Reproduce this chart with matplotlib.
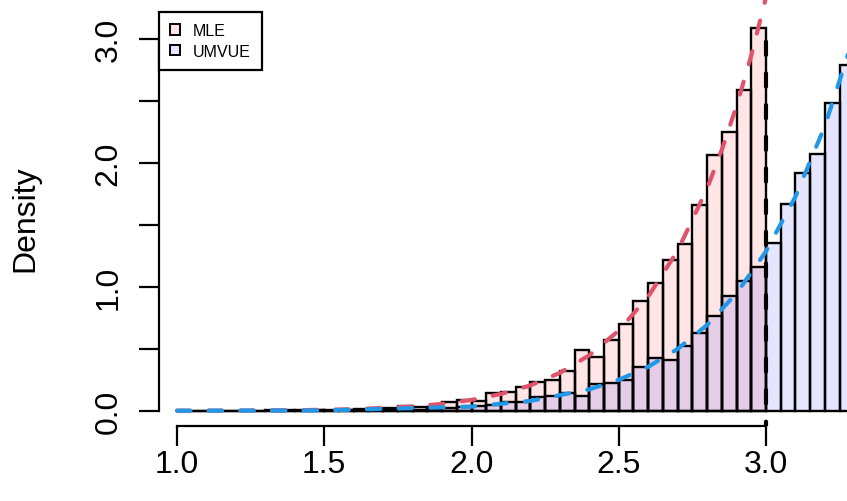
import numpy as np
import matplotlib
matplotlib.use("Agg")
import matplotlib.pyplot as plt
from matplotlib.patches import Patch

plt.rcParams['font.family'] = ['Liberation Sans', 'DejaVu Sans']

# histogram breaks (width 0.05)
bin_width = 0.05
mle_start = 1.0
umvue_start = 1.0

# MLE density per bin, 1.00 .. 3.00
mle_density = [0.0, 0.0, 0.0, 0.0, 0.0, 0.0, 0.002, 0.002, 0.004, 0.002,
               0.008, 0.006, 0.012, 0.016, 0.020, 0.038, 0.028, 0.032, 0.070, 0.088,
               0.076, 0.141, 0.154, 0.189, 0.229, 0.248, 0.324, 0.486, 0.434, 0.567,
               0.700, 0.886, 1.033, 1.213, 1.348, 1.657, 2.065, 2.246, 2.584, 3.088]

# UMVUE density per bin, 1.00 .. 3.30
umvue_density = [0.0, 0.0, 0.0, 0.0, 0.0, 0.0, 0.0, 0.0, 0.0, 0.002,
                 0.0, 0.002, 0.002, 0.004, 0.004, 0.006, 0.008, 0.010, 0.020, 0.030,
                 0.040, 0.046, 0.067, 0.073, 0.107, 0.121, 0.142, 0.121, 0.215, 0.220,
                 0.250, 0.349, 0.425, 0.412, 0.519, 0.627, 0.766, 0.921, 1.047, 1.162,
                 1.350, 1.667, 1.920, 2.070, 2.480, 2.790]

# density curves
mle_curve_x = [1.0, 1.2, 1.4, 1.6, 1.8, 1.9, 2.0, 2.1, 2.2, 2.3, 2.4, 2.5,
               2.6, 2.7, 2.8, 2.85, 2.9, 2.95, 3.0]
mle_curve_y = [0.0002, 0.0009, 0.0035, 0.012, 0.034, 0.055, 0.087, 0.135, 0.204,
               0.305, 0.447, 0.646, 0.920, 1.291, 1.791, 2.105, 2.457, 2.865, 3.333]
umvue_curve_x = [1.0, 1.5, 2.0, 2.2, 2.4, 2.5, 2.6, 2.7, 2.8, 2.9, 3.0, 3.1,
                 3.2, 3.3]
umvue_curve_y = [0.0001, 0.0025, 0.033, 0.079, 0.172, 0.249, 0.354, 0.498, 0.691,
                 0.947, 1.285, 1.726, 2.297, 3.030]

true_theta = 3.0
vline_top = 3.09

labels = ['MLE', 'UMVUE']
fill_mle = (1.0, 0.0, 0.0, 0.1)
fill_umvue = (0.0, 0.0, 1.0, 0.1)
red = '#DF536B'
blue = '#2297E6'
dash = [3.2, 4.4]

fig = plt.figure(figsize=(8.47, 5.02), dpi=100)
ax = fig.add_axes([159 / 847, 75 / 502, 688 / 847, 427 / 502])

mle_left = mle_start + bin_width * np.arange(len(mle_density))
umvue_left = umvue_start + bin_width * np.arange(len(umvue_density))

ax.bar(mle_left, mle_density, width=bin_width, align='edge',
       facecolor=fill_mle, edgecolor='black', linewidth=1.7, zorder=2)
ax.bar(umvue_left, umvue_density, width=bin_width, align='edge',
       facecolor=fill_umvue, edgecolor='black', linewidth=1.7, zorder=3)

l1, = ax.plot(mle_curve_x, mle_curve_y, color=red, lw=3, zorder=4,
              dash_capstyle='round')
l1.set_dashes(dash)
l2, = ax.plot(umvue_curve_x, umvue_curve_y, color=blue, lw=3, zorder=5,
              dash_capstyle='round')
l2.set_dashes(dash)
l3, = ax.plot([true_theta, true_theta], [-0.2, vline_top], color='black', lw=3,
              zorder=6, dash_capstyle='round')
l3.set_dashes(dash)

ax.set_xlim(0.9389, 3.275)
ax.set_ylim(-0.1234, 3.320)

for s in ['top', 'right']:
    ax.spines[s].set_visible(False)
ax.spines['left'].set_bounds(0, 3)
ax.spines['bottom'].set_bounds(1, 3)
ax.spines['left'].set_linewidth(1.6)
ax.spines['bottom'].set_linewidth(1.6)

ax.set_xticks([1.0, 1.5, 2.0, 2.5, 3.0])
ax.set_xticklabels(['1.0', '1.5', '2.0', '2.5', '3.0'])
ax.set_yticks([0, 0.5, 1, 1.5, 2, 2.5, 3])
ax.set_yticklabels(['0.0', '', '1.0', '', '2.0', '', '3.0'], rotation=90,
                   va='center')
ax.tick_params(axis='both', length=14.4, width=1.6, labelsize=23)
ax.tick_params(axis='x', pad=2)
ax.tick_params(axis='y', pad=11)

fig.text(25 / 847, 1 - 219 / 502, 'Density', rotation=90, fontsize=23,
         ha='center', va='center')

handles = [Patch(facecolor=fill_mle, edgecolor='black', linewidth=1.4),
           Patch(facecolor=fill_umvue, edgecolor='black', linewidth=1.4)]
leg = ax.legend(handles, labels, loc='upper left',
                bbox_to_anchor=(159 / 847, 1 - 13 / 502),
                bbox_transform=fig.transFigure, borderaxespad=0,
                fontsize=11.5, handlelength=0.6, handleheight=0.6,
                handletextpad=0.8, borderpad=0.7, labelspacing=0.35,
                fancybox=False, framealpha=1, edgecolor='black')
leg.get_frame().set_linewidth(1.6)
leg.set_zorder(10)

fig.savefig('out.png', dpi=100)
